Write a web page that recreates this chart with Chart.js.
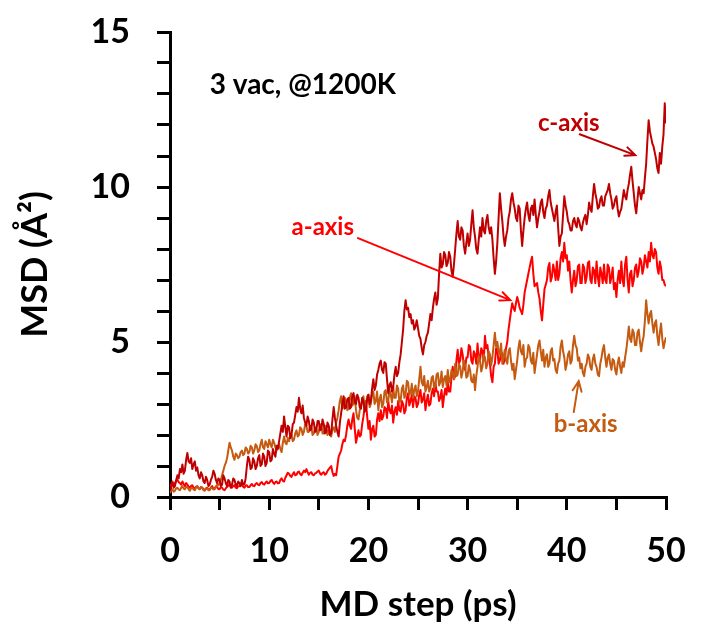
<!DOCTYPE html>
<html>
<head>
<meta charset="utf-8">
<script src="https://cdn.jsdelivr.net/npm/chart.js@4/dist/chart.umd.min.js"></script>
<style>
  html, body { margin: 0; padding: 0; background: #fff; }
  #wrap { width: 713px; height: 628px; position: relative; }
</style>
</head>
<body>
<div id="wrap"><canvas id="msd"></canvas></div>
<script>
/* MSD per axis, sampled every 0.125 ps from 0 to 50 ps (one line = 1 ps) */
const STEP_PS = 0.125;

const C_AXIS = [
  0.20, 0.35, 0.45, 0.30, 0.35, 0.55, 0.70, 0.60,
  0.90, 0.80, 1.05, 0.75, 0.85, 1.20, 1.42, 1.15,
  1.10, 1.25, 0.90, 1.05, 1.15, 0.85, 0.95, 0.70,
  0.60, 0.80, 0.70, 0.50, 0.45, 0.65, 0.55, 0.35,
  0.40, 0.55, 0.65, 0.85, 0.75, 0.55, 0.45, 0.60,
  0.55, 0.35, 0.40, 0.70, 0.60, 0.45, 0.35, 0.55,
  0.50, 0.30, 0.40, 0.60, 0.55, 0.40, 0.35, 0.50,
  0.45, 0.35, 0.55, 0.40, 0.40, 0.60, 1.00, 1.30,
  1.20, 0.90, 0.95, 1.25, 1.15, 0.90, 1.00, 1.25,
  1.35, 1.00, 1.05, 1.40, 1.30, 1.00, 1.10, 1.50,
  1.45, 1.15, 1.20, 1.55, 1.40, 1.30, 1.65, 1.55,
  1.80, 2.05, 2.30, 2.10, 2.60, 2.25, 1.95, 2.30,
  2.25, 1.90, 2.00, 2.35, 2.40, 2.65, 2.90, 2.75,
  3.20, 2.85, 2.70, 2.95, 2.55, 2.40, 2.30, 2.60,
  2.45, 2.15, 2.20, 2.50, 2.40, 2.10, 2.15, 2.45,
  2.45, 2.15, 2.20, 2.50, 2.35, 2.05, 2.10, 2.40,
  2.30, 2.00, 2.05, 2.50, 2.90, 2.55, 2.30, 2.10,
  1.95, 2.40, 2.70, 3.00, 3.25, 2.85, 2.90, 3.15,
  3.20, 2.85, 2.90, 3.25, 3.35, 3.05, 3.00, 3.30,
  3.20, 2.90, 2.85, 3.20, 3.10, 2.75, 2.80, 3.15,
  3.30, 3.00, 3.10, 3.50, 3.80, 3.45, 3.60, 3.95,
  4.10, 4.30, 4.40, 4.10, 4.00, 4.35, 4.30, 3.80,
  3.35, 3.60, 3.70, 3.40, 3.55, 3.95, 4.20, 3.90,
  4.00, 4.35, 4.60, 5.00, 5.40, 6.00, 6.35, 6.05,
  6.10, 5.80, 5.90, 5.60, 5.70, 5.40, 5.50, 5.70,
  5.45, 5.20, 5.10, 4.80, 4.60, 4.90, 5.00, 5.20,
  5.30, 5.60, 5.90, 5.70, 6.10, 6.40, 6.60, 6.20,
  6.40, 7.20, 7.85, 7.40, 7.50, 7.90, 7.80, 7.45,
  7.55, 7.90, 7.75, 7.30, 7.10, 7.50, 8.00, 8.50,
  8.90, 8.40, 8.30, 8.70, 8.60, 8.10, 7.85, 8.20,
  8.50, 8.10, 8.30, 8.80, 9.25, 8.70, 8.40, 8.00,
  7.85, 8.30, 8.70, 8.40, 9.00, 8.60, 8.50, 8.90,
  9.10, 8.70, 8.50, 8.70, 8.30, 7.70, 7.20, 7.60,
  8.20, 9.00, 9.80, 9.30, 8.90, 8.40, 8.10, 8.40,
  8.60, 9.00, 9.20, 9.60, 9.80, 9.50, 9.30, 9.00,
  8.90, 9.40, 9.30, 8.60, 8.10, 8.60, 9.00, 9.30,
  9.50, 9.10, 8.90, 9.30, 9.40, 9.10, 9.60, 9.10,
  8.70, 9.00, 9.20, 9.50, 9.60, 9.20, 9.00, 9.30,
  9.40, 9.70, 9.90, 9.50, 9.30, 9.10, 8.90, 9.20,
  9.40, 8.70, 8.10, 8.40, 8.50, 9.10, 9.70, 9.40,
  9.20, 8.90, 8.80, 8.60, 8.60, 8.90, 9.00, 8.80,
  8.70, 9.00, 8.90, 8.70, 8.60, 8.85, 9.00, 9.10,
  8.80, 9.10, 9.50, 9.30, 9.20, 9.70, 10.10, 9.80,
  9.60, 9.30, 9.35, 9.60, 9.70, 9.40, 9.40, 9.70,
  9.80, 9.90, 10.10, 9.80, 9.60, 9.30, 9.40, 9.60,
  9.70, 9.30, 9.05, 9.20, 9.30, 9.60, 9.90, 9.70,
  9.60, 9.90, 10.10, 10.40, 10.65, 10.20, 9.80, 9.40,
  9.15, 9.60, 10.00, 9.80, 9.60, 9.90, 9.80, 10.30,
  10.75, 11.50, 12.15, 11.80, 11.60, 11.40, 11.30, 11.10,
  10.90, 10.60, 10.45, 11.10, 10.75, 11.30, 11.70, 12.70,
  12.05,
];

const A_AXIS = [
  0.24, 0.40, 0.50, 0.40, 0.45, 0.52, 0.55, 0.48,
  0.45, 0.40, 0.50, 0.42, 0.35, 0.45, 0.40, 0.33,
  0.30, 0.36, 0.38, 0.30, 0.28, 0.33, 0.35, 0.28,
  0.25, 0.32, 0.30, 0.25, 0.22, 0.28, 0.30, 0.24,
  0.25, 0.30, 0.35, 0.26, 0.28, 0.34, 0.32, 0.26,
  0.25, 0.32, 0.30, 0.24, 0.22, 0.28, 0.32, 0.37,
  0.40, 0.33, 0.30, 0.36, 0.38, 0.30, 0.28, 0.34,
  0.35, 0.42, 0.40, 0.33, 0.30, 0.36, 0.38, 0.32,
  0.32, 0.38, 0.42, 0.36, 0.35, 0.42, 0.45, 0.40,
  0.38, 0.45, 0.48, 0.42, 0.40, 0.46, 0.50, 0.44,
  0.45, 0.52, 0.55, 0.47, 0.42, 0.48, 0.50, 0.44,
  0.45, 0.55, 0.60, 0.52, 0.50, 0.62, 0.70, 0.78,
  0.75, 0.68, 0.65, 0.74, 0.80, 0.70, 0.72, 0.80,
  0.82, 0.74, 0.70, 0.78, 0.85, 0.80, 0.90, 0.80,
  0.72, 0.78, 0.80, 0.72, 0.70, 0.76, 0.78, 0.82,
  0.85, 0.76, 0.72, 0.78, 0.80, 0.72, 0.75, 0.84,
  0.90, 0.95, 1.00, 0.80, 0.68, 0.75, 0.70, 1.00,
  1.30, 1.40, 1.50, 1.70, 1.85, 1.80, 2.00, 2.30,
  2.50, 2.30, 2.20, 2.50, 2.70, 2.20, 1.75, 1.95,
  2.15, 1.95, 2.00, 2.35, 2.60, 2.90, 3.10, 2.60,
  2.20, 2.45, 1.85, 2.20, 2.30, 1.95, 2.00, 2.50,
  2.70, 2.45, 2.80, 2.50, 2.60, 2.90, 2.85, 2.55,
  3.10, 2.80, 2.70, 2.95, 2.40, 2.75, 2.90, 2.65,
  3.10, 2.80, 2.75, 3.10, 3.00, 2.70, 2.80, 3.20,
  3.35, 2.95, 3.10, 3.30, 2.90, 3.25, 3.20, 2.90,
  3.00, 3.30, 3.45, 3.05, 3.15, 3.35, 2.80, 3.10,
  3.30, 2.95, 3.00, 3.35, 3.50, 3.25, 3.70, 3.40,
  3.40, 3.10, 3.20, 3.45, 2.90, 3.25, 3.50, 3.30,
  3.70, 3.40, 3.40, 3.85, 4.20, 3.80, 3.90, 4.40,
  4.75, 4.30, 4.40, 4.80, 4.60, 4.20, 4.10, 4.50,
  4.50, 4.90, 4.85, 4.40, 4.30, 4.70, 4.60, 4.30,
  4.95, 4.50, 4.40, 4.80, 4.70, 4.40, 5.20, 4.80,
  4.90, 4.50, 4.30, 3.90, 3.70, 4.20, 4.30, 4.80,
  4.75, 4.30, 4.40, 4.70, 4.60, 4.30, 4.50, 4.80,
  5.00, 5.40, 5.70, 6.00, 6.25, 6.10, 6.00, 6.25,
  6.45, 6.30, 6.10, 6.00, 5.90, 6.20, 6.60, 6.80,
  7.00, 7.20, 7.40, 7.60, 7.75, 7.20, 6.80, 6.85,
  6.90, 6.60, 6.40, 6.00, 5.70, 6.20, 6.70, 6.85,
  7.00, 7.40, 7.55, 6.95, 7.10, 7.50, 7.30, 7.00,
  7.60, 7.00, 7.20, 7.70, 7.90, 7.60, 8.20, 7.70,
  7.80, 7.30, 7.60, 7.00, 6.60, 7.00, 7.30, 6.80,
  7.00, 7.45, 7.50, 6.90, 6.90, 7.50, 7.40, 6.90,
  7.10, 7.55, 7.60, 7.00, 6.90, 7.40, 7.30, 6.90,
  7.60, 7.10, 6.80, 7.40, 7.20, 6.90, 7.50, 7.00,
  6.90, 7.50, 7.40, 6.90, 7.10, 7.40, 6.70, 6.90,
  6.45, 7.00, 7.30, 6.90, 7.60, 7.00, 6.80, 7.50,
  7.75, 7.00, 6.60, 7.20, 7.30, 6.80, 7.00, 7.40,
  7.50, 7.10, 7.30, 7.70, 7.60, 7.20, 7.40, 7.80,
  7.60, 7.40, 7.90, 7.60, 8.20, 7.80, 7.70, 8.00,
  7.90, 7.40, 7.20, 7.60, 7.40, 7.00, 7.00, 6.85,
  6.80,
];

const B_AXIS = [
  0.13, 0.22, 0.25, 0.17, 0.20, 0.28, 0.30, 0.24,
  0.22, 0.30, 0.35, 0.27, 0.25, 0.33, 0.32, 0.25,
  0.20, 0.28, 0.30, 0.24, 0.22, 0.30, 0.35, 0.28,
  0.25, 0.32, 0.30, 0.22, 0.20, 0.26, 0.28, 0.22,
  0.22, 0.28, 0.30, 0.24, 0.25, 0.32, 0.40, 0.38,
  0.45, 0.55, 0.70, 0.85, 1.00, 1.10, 1.25, 1.50,
  1.75, 1.60, 1.50, 1.30, 1.20, 1.40, 1.35, 1.25,
  1.30, 1.45, 1.50, 1.35, 1.40, 1.60, 1.55, 1.40,
  1.45, 1.65, 1.60, 1.40, 1.50, 1.70, 1.65, 1.45,
  1.50, 1.70, 1.85, 1.60, 1.55, 1.80, 1.70, 1.60,
  1.85, 1.70, 1.60, 1.85, 1.75, 1.60, 1.50, 1.65,
  1.70, 1.55, 1.45, 1.75, 1.95, 1.75, 1.70, 1.90,
  1.80, 2.00, 2.00, 1.80, 1.85, 2.05, 2.15, 1.95,
  2.00, 2.25, 2.20, 2.00, 2.10, 2.35, 2.30, 2.10,
  2.10, 2.30, 2.25, 2.00, 2.05, 2.25, 2.20, 2.00,
  2.10, 2.35, 2.30, 2.05, 2.05, 2.30, 2.20, 2.00,
  2.15, 2.00, 1.95, 2.20, 2.25, 2.10, 2.40, 2.55,
  2.80, 3.10, 3.25, 2.85, 2.90, 3.20, 3.10, 2.80,
  2.85, 3.20, 3.35, 2.95, 3.00, 3.25, 2.80, 2.55,
  2.50, 2.80, 2.90, 3.15, 3.25, 2.85, 2.95, 3.25,
  3.30, 2.90, 3.00, 3.35, 3.40, 3.00, 3.10, 3.40,
  2.80, 3.15, 3.30, 2.90, 3.00, 3.40, 3.45, 3.05,
  3.10, 3.45, 3.30, 3.05, 3.55, 3.20, 3.20, 3.60,
  3.50, 3.05, 3.10, 3.50, 3.60, 3.20, 3.30, 3.75,
  3.70, 3.30, 3.35, 3.65, 3.20, 3.45, 3.60, 3.25,
  3.40, 3.80, 4.20, 3.70, 3.60, 3.90, 3.40, 3.55,
  3.75, 3.40, 3.50, 3.85, 3.90, 3.50, 3.60, 3.95,
  4.00, 3.60, 3.70, 4.05, 3.55, 3.80, 3.90, 3.60,
  4.10, 3.70, 3.75, 4.10, 4.00, 3.80, 4.30, 3.90,
  3.95, 4.30, 4.20, 3.85, 4.05, 4.40, 4.25, 3.85,
  3.90, 4.25, 4.10, 3.75, 3.70, 3.95, 3.45, 3.90,
  4.20, 4.55, 4.40, 4.05, 4.20, 4.60, 4.50, 4.15,
  4.30, 4.70, 4.60, 4.25, 4.50, 4.90, 5.30, 4.85,
  5.00, 4.70, 4.60, 4.95, 4.30, 4.50, 4.75, 4.40,
  4.30, 4.70, 4.80, 4.40, 4.10, 4.30, 3.80, 4.10,
  4.40, 4.80, 5.05, 4.70, 4.60, 4.90, 4.20, 4.45,
  4.50, 4.90, 4.80, 4.40, 4.30, 4.65, 4.00, 4.30,
  4.60, 4.90, 5.05, 4.70, 4.40, 4.75, 4.20, 4.50,
  4.60, 4.20, 4.30, 4.70, 4.80, 4.40, 4.45, 4.10,
  4.00, 4.30, 4.40, 4.85, 5.05, 4.70, 4.50, 4.10,
  4.30, 4.60, 4.70, 4.30, 4.40, 4.90, 5.20, 4.90,
  4.80, 4.40, 4.50, 4.15, 4.30, 4.00, 3.90, 4.20,
  4.30, 4.60, 4.50, 4.20, 4.10, 4.45, 4.60, 4.30,
  4.20, 3.95, 3.90, 4.30, 4.50, 4.75, 4.90, 4.50,
  4.20, 4.50, 4.60, 4.30, 4.10, 4.45, 4.40, 4.10,
  3.95, 4.30, 4.50, 4.20, 4.00, 4.35, 4.20, 4.50,
  4.75, 5.10, 5.50, 5.10, 5.00, 5.40, 5.30, 4.90,
  4.90, 5.30, 5.40, 5.00, 4.70, 5.00, 5.20, 5.70,
  6.35, 5.90, 5.60, 5.90, 6.00, 5.60, 5.30, 5.60,
  5.70, 5.20, 4.90, 5.30, 5.60, 5.10, 4.80, 5.00,
  5.15,
];

const SERIES_NAMES  = ['c-axis', 'b-axis', 'a-axis'];
const SERIES_VALUES = [C_AXIS, B_AXIS, A_AXIS];
const SERIES_COLORS = ['#C00000', '#C55A11', '#FF0000'];

const X_TICKS = [0, 10, 20, 30, 40, 50];
const Y_TICKS = [0, 5, 10, 15];

/* labels + arrows, positioned in data units (ps, Å²) */
const NOTES = [
  { text: '3 vac, @1200K', x: 4.0,  y: 13.3,  size: 28, color: '#000000', align: 'left' },
  { text: 'c-axis',        x: 40.2, y: 12.06, size: 24, color: '#C00000', align: 'center',
    arrow: [41.3, 11.7, 46.9, 11.03] },
  { text: 'a-axis',        x: 15.4, y: 8.7,   size: 24, color: '#FF0000', align: 'center',
    arrow: [18.95, 8.35, 34.3, 6.35] },
  { text: 'b-axis',        x: 41.9, y: 2.34,  size: 24, color: '#C55A11', align: 'center',
    arrow: [40.7, 2.74, 41.2, 3.74] },
];

const FONT = 'Lato, "Open Sans", sans-serif';

const toPoints = vals => vals.map((v, i) => ({ x: i * STEP_PS, y: v }));

const notesPlugin = {
  id: 'notes',
  afterDatasetsDraw(chart) {
    const { ctx, scales: { x, y } } = chart;
    ctx.save();
    NOTES.forEach(n => {
      ctx.font = `bold ${n.size}px ${FONT}`;
      ctx.fillStyle = n.color;
      ctx.textAlign = n.align;
      ctx.textBaseline = 'middle';
      ctx.fillText(n.text, x.getPixelForValue(n.x), y.getPixelForValue(n.y));

      if (!n.arrow) return;
      const x0 = x.getPixelForValue(n.arrow[0]), y0 = y.getPixelForValue(n.arrow[1]);
      const x1 = x.getPixelForValue(n.arrow[2]), y1 = y.getPixelForValue(n.arrow[3]);
      const ang = Math.atan2(y1 - y0, x1 - x0);
      const head = 11, spread = 0.42;
      ctx.strokeStyle = n.color;
      ctx.lineWidth = 2;
      ctx.lineCap = 'round';
      ctx.beginPath();
      ctx.moveTo(x0, y0);
      ctx.lineTo(x1, y1);
      ctx.moveTo(x1 - head * Math.cos(ang - spread), y1 - head * Math.sin(ang - spread));
      ctx.lineTo(x1, y1);
      ctx.lineTo(x1 - head * Math.cos(ang + spread), y1 - head * Math.sin(ang + spread));
      ctx.stroke();
    });
    ctx.restore();
  },
};

new Chart(document.getElementById('msd'), {
  type: 'line',
  data: {
    datasets: SERIES_NAMES.map((name, i) => ({
      label: name,
      data: toPoints(SERIES_VALUES[i]),
      borderColor: SERIES_COLORS[i],
      borderWidth: 2,
      pointRadius: 0,
      tension: 0,
      borderJoinStyle: 'round',
    })),
  },
  options: {
    responsive: true,
    maintainAspectRatio: false,
    animation: false,
    layout: { padding: { left: 0, right: 47, top: 32, bottom: 0 } },
    plugins: { legend: { display: false }, tooltip: { enabled: false } },
    scales: {
      x: {
        type: 'linear',
        min: 0, max: 50,
        // fixed axis band; edge labels fit inside the layout padding
        afterFit: s => { s.height = 131; s.paddingLeft = 0; s.paddingRight = 0; },
        border: { color: '#000', width: 3 },
        grid: { drawOnChartArea: false, color: '#000', lineWidth: 3, tickLength: 13 },
        ticks: {
          stepSize: 5,
          autoSkip: false,
          maxRotation: 0,
          padding: 21,
          color: '#000',
          font: { family: FONT, weight: 'bold', size: 34 },
          callback: v => X_TICKS.includes(v) ? String(v) : '',
        },
        title: {
          display: true,
          text: 'MD step (ps)',
          color: '#000',
          font: { family: FONT, weight: 'bold', size: 35 },
          padding: { top: 0, bottom: 2 },
        },
      },
      y: {
        min: 0, max: 15,
        afterFit: s => { s.width = 170; s.paddingTop = 0; s.paddingBottom = 0; },
        border: { color: '#000', width: 3 },
        grid: { drawOnChartArea: false, color: '#000', lineWidth: 3, tickLength: 13 },
        ticks: {
          stepSize: 1,
          autoSkip: false,
          padding: 27,
          color: '#000',
          font: { family: FONT, weight: 'bold', size: 34 },
          callback: v => Y_TICKS.includes(v) ? String(v) : '',
        },
        title: {
          display: true,
          text: 'MSD (Å²)',
          color: '#000',
          font: { family: FONT, weight: 'bold', size: 36 },
          padding: { top: 14, bottom: 0 },
        },
      },
    },
  },
  plugins: [notesPlugin],
});
</script>
</body>
</html>
